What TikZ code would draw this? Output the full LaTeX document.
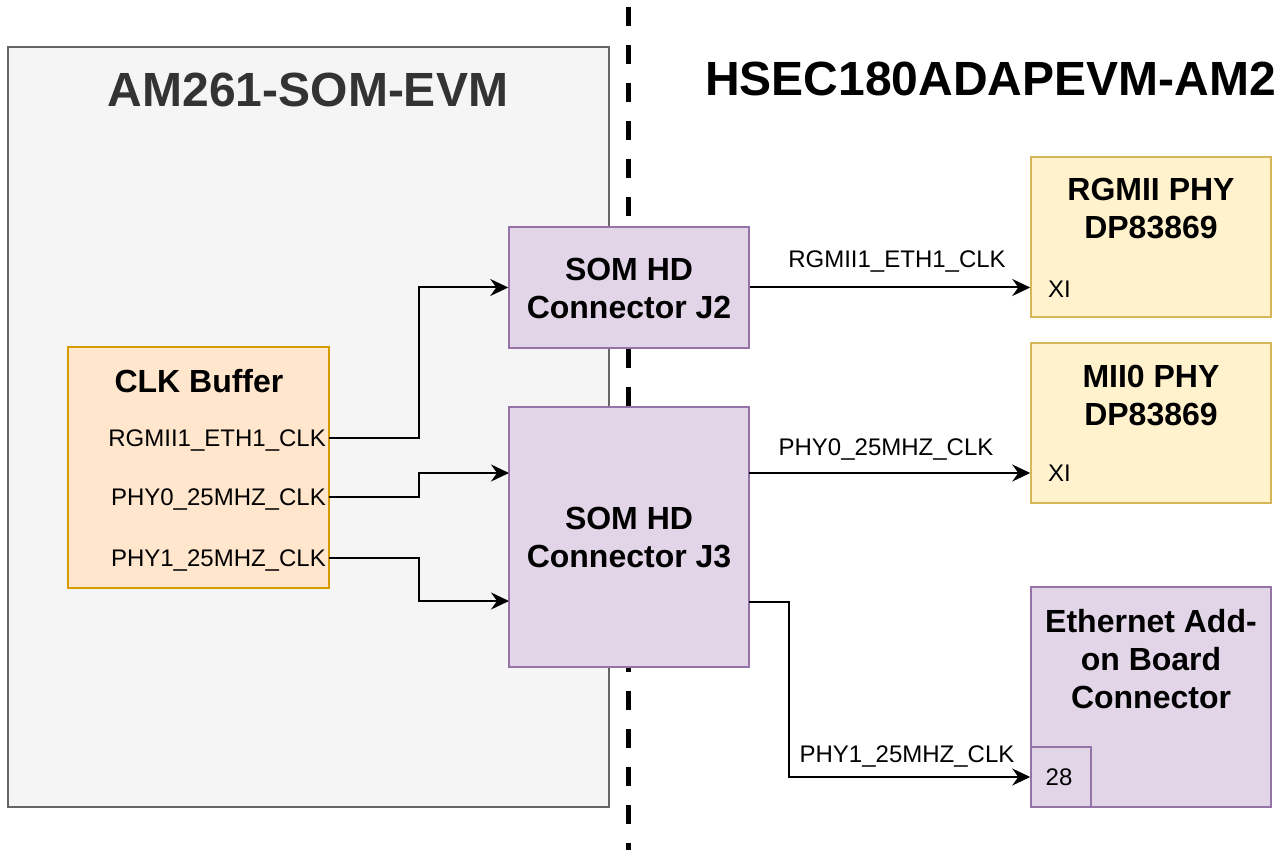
\documentclass[tikz,border=0pt]{standalone}
\usepackage{fontspec}
\setmainfont{Liberation Sans}
\usetikzlibrary{arrows.meta}
\definecolor{somfill}{HTML}{F5F5F5}
\definecolor{somline}{HTML}{666666}
\definecolor{titlegray}{HTML}{333333}
\definecolor{clkfill}{HTML}{FFE6CC}
\definecolor{clkline}{HTML}{D79B00}
\definecolor{purfill}{HTML}{E1D5E7}
\definecolor{purline}{HTML}{9673A6}
\definecolor{yelfill}{HTML}{FFF2CC}
\definecolor{yelline}{HTML}{D6B656}
\begin{document}
\begin{tikzpicture}[x=1pt,y=-1pt,
  box/.style={draw, rectangle, line width=1.5pt, inner sep=0pt},
  graybox/.style={box, draw=somline, fill=somfill},
  clkbox/.style={box, draw=clkline, fill=clkfill},
  purbox/.style={box, draw=purline, fill=purfill},
  yelbox/.style={box, draw=yelline, fill=yelfill},
  boxtitle/.style={font=\fontsize{32}{38}\selectfont\bfseries, align=center, inner sep=0pt},
  sig/.style={font=\fontsize{24}{28}\selectfont, inner sep=0pt},
  big/.style={font=\fontsize{48}{56}\selectfont\bfseries, inner sep=0pt},
  wire/.style={line width=2pt},
  arr/.style={wire, -{Stealth[length=18pt,width=17pt,inset=6pt]}}]
\useasboundingbox (0,0) rectangle (1283,850);
\fill[white] (0,0) rectangle (1283,850);

% separator
\coordinate (sepTop) at (628,0);
\coordinate (sepBot) at (628,850);
\draw[line width=5pt, dash pattern=on 19pt off 19pt, dash phase=31pt] (sepTop) -- (sepBot);

% left board
\node[graybox, minimum width=601pt, minimum height=760pt] (som) at (308.5,427) {};
\node[big, text=titlegray, anchor=base] (t1) at (308,107) {AM261-SOM-EVM};
\node[big, anchor=base west] (t2) at (705,96) {HSEC180ADAPEVM-AM2};

% CLK buffer
\node[clkbox, minimum width=261pt, minimum height=241pt] (clk) at (198.5,467.5) {};
\node[boxtitle] (clkt) at (199,381) {CLK Buffer};
\node[sig, anchor=base east] (pA) at (326,446) {RGMII1\_ETH1\_CLK};
\node[sig, anchor=base east] (pB) at (326,505) {PHY0\_25MHZ\_CLK};
\node[sig, anchor=base east] (pC) at (326,566) {PHY1\_25MHZ\_CLK};

% connectors J2/J3
\node[purbox, minimum width=240pt, minimum height=121pt] (j2) at (629,287.5) {};
\node[boxtitle] (j2t) at (629,288) {SOM HD\\Connector J2};
\node[purbox, minimum width=240pt, minimum height=260pt] (j3) at (629,537) {};
\node[boxtitle] (j3t) at (629,538) {SOM HD\\Connector J3};

% right side
\node[yelbox, minimum width=240pt, minimum height=160pt] (rphy) at (1151,237) {};
\node[boxtitle] (rphyt) at (1151,209) {RGMII PHY\\DP83869};
\node[sig, anchor=west] (xi1) at (1048,289) {XI};

\node[yelbox, minimum width=240pt, minimum height=160pt] (mphy) at (1151,423) {};
\node[boxtitle] (mphyt) at (1151,396) {MII0 PHY\\DP83869};
\node[sig, anchor=west] (xi2) at (1048,473) {XI};

\node[purbox, minimum width=240pt, minimum height=220pt] (eth) at (1151,697) {};
\node[boxtitle] (etht) at (1151,659) {Ethernet Add-\\on Board\\Connector};
\node[purbox, minimum width=60pt, minimum height=60pt] (pin28) at (1061,777) {};
\node[sig] (pin28t) at (1059,777) {28};

% wire end points
\coordinate (clkA) at (329,438);
\coordinate (clkB) at (329,497);
\coordinate (clkC) at (329,558);
\coordinate (j3inA) at (509,473);
\coordinate (j3inB) at (509,601);
\coordinate (j3outA) at (749,473);
\coordinate (j3outB) at (749,602);

\draw[arr] (clkA) -- ++(90,0) |- (j2.west);
\draw[arr] (clkB) -- ++(90,0) |- (j3inA);
\draw[arr] (clkC) -- ++(90,0) |- (j3inB);

\draw[arr] (j2.east) -- (j2.east -| rphy.west);
\draw[arr] (j3outA) -- (j3outA -| mphy.west);
\draw[arr] (j3outB) -- ++(40,0) |- (pin28.west);

% wire labels
\node[sig, anchor=base] (l1) at (897,268) {RGMII1\_ETH1\_CLK};
\node[sig, anchor=base] (l2) at (886,455) {PHY0\_25MHZ\_CLK};
\node[sig, anchor=base] (l3) at (907,762) {PHY1\_25MHZ\_CLK};
\end{tikzpicture}
\end{document}
